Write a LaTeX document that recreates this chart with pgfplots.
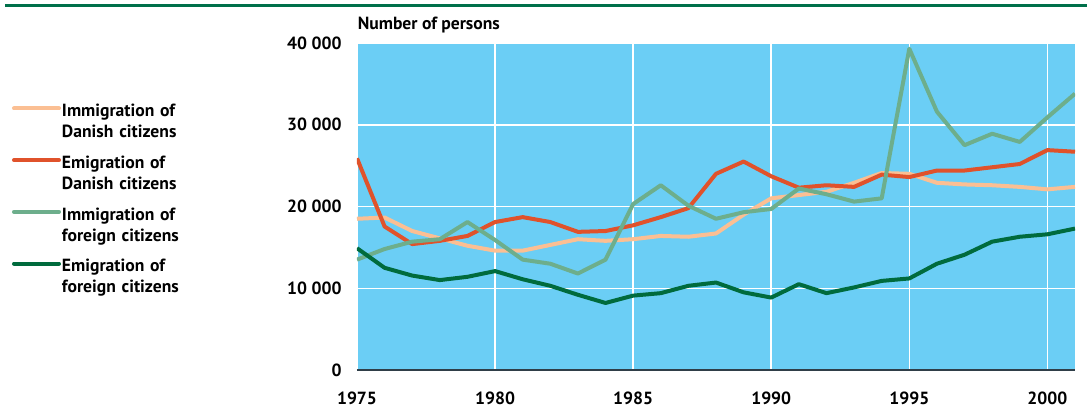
\documentclass[border=0pt]{standalone}
\usepackage{fontspec}
\setmainfont{PT Sans}
\usepackage{pgfplots}
\pgfplotsset{compat=1.18}
\usepackage{pgfplotstable}
\definecolor{skyb}{HTML}{6BCEF5}
\definecolor{peach}{HTML}{FBBF93}
\definecolor{redo}{HTML}{E0522B}
\definecolor{lgreen}{HTML}{6DAE8C}
\definecolor{dgreen}{HTML}{006B3D}
\definecolor{axisdark}{HTML}{2F3E48}
\definecolor{rulegreen}{HTML}{00704A}

\pgfplotstableread{
year impdk emdk impfo emfo
1975 18500 25900 13500 14900
1976 18650 17550 14800 12500
1977 17000 15400 15700 11550
1978 16100 15800 16000 11000
1979 15200 16400 18100 11400
1980 14600 18100 15900 12100
1981 14600 18700 13500 11100
1982 15300 18100 13000 10300
1983 16000 16900 11800 9200
1984 15800 17000 13500 8200
1985 16000 17700 20300 9100
1986 16400 18700 22600 9400
1987 16300 19800 20100 10300
1988 16700 24000 18500 10700
1989 19000 25500 19300 9500
1990 21000 23700 19700 8860
1991 21400 22300 22200 10500
1992 21800 22600 21500 9400
1993 22900 22400 20600 10100
1994 24100 23900 21000 10900
1995 24000 23600 39300 11200
1996 22900 24400 31600 13000
1997 22700 24400 27500 14100
1998 22600 24800 28900 15700
1999 22400 25200 27900 16300
2000 22100 26900 30900 16600
2001 22400 26700 33800 17300
}\data

\begin{document}
\begin{tikzpicture}
\useasboundingbox (0,0) rectangle (543.5pt,204pt);
\draw[rulegreen, line width=1.4pt] (2.5pt,201.25pt) -- (543.5pt,201.25pt);
\node[anchor=base west, inner sep=0pt, font=\bfseries\fontsize{8.8}{10.5}\selectfont] at (178.7pt,189.35pt) {Number of persons};
\begin{axis}[
  at={(178.5pt,19pt)}, anchor=south west,
  scale only axis, width=359pt, height=163.5pt,
  xmin=1975, xmax=2001, ymin=0, ymax=40000,
  scaled y ticks=false, scaled x ticks=false,
  xtick={1975,1980,1985,1990,1995,2000},
  xticklabels={1975,1980,1985,1990,1995,2000},
  ytick={0,10000,20000,30000,40000},
  yticklabels={0,10 000,20 000,30 000,40 000},
  axis line style={draw=none},
  major tick length=0pt,
  tick style={draw=none},
  grid=major,
  major grid style={white, line width=0.75pt},
  axis background/.style={fill=skyb},
  ticklabel style={font=\bfseries\fontsize{8.8}{10.5}\selectfont, inner sep=0pt},
  yticklabel style={xshift=-7.5pt},
  xticklabel style={yshift=-10.6pt},
  clip mode=individual,
  legend style={at={(-0.4805,0.811)}, anchor=north west, draw=none, fill=none,
    inner sep=0pt, outer sep=0pt, row sep=6.85pt, column sep=0.5pt,
    font=\bfseries\fontsize{8.8}{10.5}\selectfont,
    cells={anchor=base west},
    nodes={inner sep=0pt, text width=80pt, align=left, text height=6pt, text depth=13pt}},
  legend image code/.code={\draw[#1, line cap=round] (0pt,4.2pt) -- (22.5pt,4.2pt);},
  every axis plot/.append style={line width=2pt, line join=round, mark=none},
]
\addplot[peach] table[x=year, y=impdk] {\data};
\addlegendentry{Immigration of\\Danish citizens}
\addplot[redo] table[x=year, y=emdk] {\data};
\addlegendentry{Emigration of\\Danish citizens}
\addplot[lgreen] table[x=year, y=impfo] {\data};
\addlegendentry{Immigration of\\foreign citizens}
\addplot[dgreen] table[x=year, y=emfo] {\data};
\addlegendentry{Emigration of\\foreign citizens}
\draw[axisdark, line width=1.4pt] (rel axis cs:0,0) -- (rel axis cs:1,0);
\end{axis}
\end{tikzpicture}
\end{document}
